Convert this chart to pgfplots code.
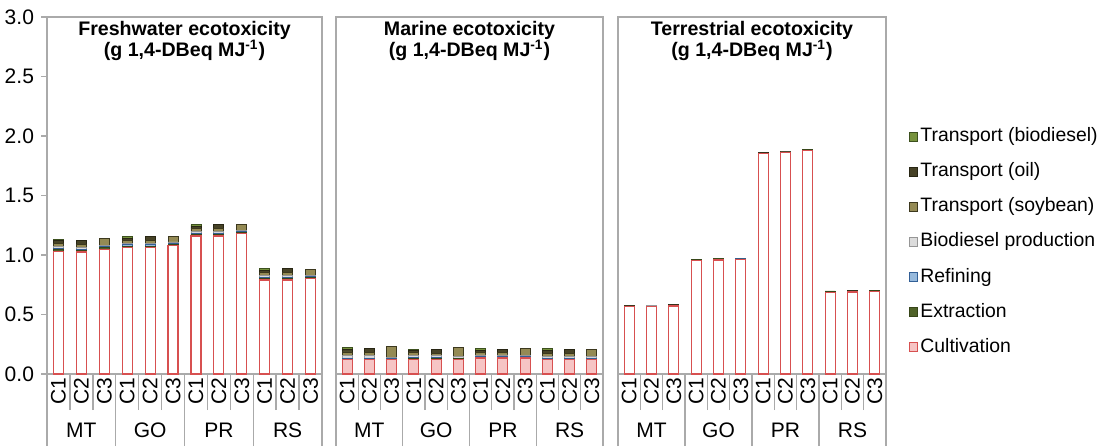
\documentclass[border=0pt]{standalone}
\usepackage{fontspec}
\setmainfont{Liberation Sans}
\usepackage{pgfplots}
\pgfplotsset{compat=1.18}
\usepackage{pgfplotstable}

\definecolor{cultD}{RGB}{215,80,80}
\definecolor{cultF}{RGB}{246,196,196}
\definecolor{extF}{RGB}{79,98,40}
\definecolor{extD}{RGB}{55,70,25}
\definecolor{refF}{RGB}{150,185,220}
\definecolor{refD}{RGB}{50,95,150}
\definecolor{bioF}{RGB}{220,220,220}
\definecolor{bioD}{RGB}{150,150,150}
\definecolor{soyF}{RGB}{148,138,84}
\definecolor{soyD}{RGB}{60,56,30}
\definecolor{oilF}{RGB}{70,66,38}
\definecolor{oilD}{RGB}{40,38,20}
\definecolor{tbF}{RGB}{118,146,60}
\definecolor{tbD}{RGB}{60,80,30}
\definecolor{axgray}{RGB}{170,170,170}

\pgfplotstableread{
x cult ext ref bio tsoy toil tbio
0 1.030 0.015 0.010 0.015 0.030 0.020 0.010
1 1.025 0.015 0.010 0.015 0.025 0.030 0.000
2 1.045 0.015 0.010 0.010 0.060 0.000 0.000
3 1.060 0.015 0.010 0.015 0.020 0.020 0.015
4 1.060 0.015 0.010 0.015 0.025 0.030 0.000
5 1.080 0.010 0.010 0.010 0.045 0.000 0.000
6 1.160 0.015 0.010 0.015 0.020 0.020 0.015
7 1.160 0.015 0.010 0.015 0.025 0.030 0.000
8 1.180 0.010 0.010 0.010 0.045 0.000 0.000
9 0.790 0.015 0.010 0.015 0.020 0.020 0.015
10 0.790 0.015 0.010 0.015 0.025 0.030 0.000
11 0.800 0.010 0.010 0.010 0.045 0.000 0.000
}\fresh

\pgfplotstableread{
x cult ext ref bio tsoy toil tbio
0 0.120 0.005 0.010 0.020 0.030 0.020 0.020
1 0.120 0.005 0.010 0.020 0.025 0.035 0.000
2 0.120 0.005 0.005 0.010 0.095 0.000 0.000
3 0.125 0.005 0.010 0.015 0.025 0.015 0.015
4 0.125 0.005 0.010 0.015 0.020 0.030 0.000
5 0.125 0.005 0.005 0.010 0.080 0.000 0.000
6 0.135 0.005 0.010 0.010 0.020 0.015 0.020
7 0.135 0.005 0.010 0.010 0.020 0.030 0.000
8 0.135 0.005 0.010 0.005 0.060 0.000 0.000
9 0.120 0.005 0.010 0.015 0.025 0.020 0.020
10 0.120 0.005 0.010 0.015 0.020 0.035 0.000
11 0.120 0.005 0.010 0.010 0.060 0.000 0.000
}\marine

\pgfplotstableread{
x cult ext ref bio tsoy toil tbio
0 0.565 0.004 0.001 0.001 0.002 0.001 0.001
1 0.567 0.004 0.001 0.001 0.002 0.001 0.001
2 0.572 0.004 0.001 0.001 0.002 0.001 0.001
3 0.955 0.004 0.001 0.001 0.002 0.001 0.001
4 0.958 0.004 0.001 0.001 0.002 0.001 0.001
5 0.963 0.004 0.001 0.001 0.002 0.001 0.001
6 1.850 0.004 0.001 0.001 0.002 0.001 0.001
7 1.860 0.004 0.001 0.001 0.002 0.001 0.001
8 1.880 0.004 0.001 0.001 0.002 0.001 0.001
9 0.688 0.004 0.001 0.001 0.002 0.001 0.001
10 0.690 0.004 0.001 0.001 0.002 0.001 0.001
11 0.695 0.004 0.001 0.001 0.002 0.001 0.001
}\terr

\pgfplotsset{
  panel/.style={
    scale only axis, height=178.5pt,
    ybar stacked, bar width=5pt,
    ymin=0, ymax=3, xmin=-0.5, xmax=11.5,
    axis line style={draw=axgray, line width=0.7pt},
    xtick={0,...,11},
    xticklabels={C1,C2,C3,C1,C2,C3,C1,C2,C3,C1,C2,C3},
    xticklabel style={rotate=90, anchor=east, font=\fontsize{10.5}{12}\selectfont, inner sep=1.5pt},
    xtick pos=bottom, ytick pos=left,
    tick align=outside,
    major tick length=0pt,
    minor xtick={-0.5,0.5,...,11.5},
    minor tick length=18pt,
    minor tick style={draw=axgray, line width=0.7pt},
    extra x ticks={-0.5,2.5,5.5,8.5,11.5},
    extra x tick labels={},
    extra x tick style={major tick length=36pt, tick style={draw=axgray, line width=0.7pt}},
    clip=false,
    title style={at={(0.5,1)}, anchor=north, yshift=-4.5pt, align=center, font=\bfseries\fontsize{9.8}{10.8}\selectfont},
    /pgf/number format/assume math mode=true,
  },
  sCult/.style={draw=cultD, fill=white, line width=0.6pt},
  sCultM/.style={draw=cultD, fill=cultF, line width=0.6pt},
  sExt/.style={draw=extD, fill=extF, line width=0.4pt},
  sRef/.style={draw=refD, fill=refF, line width=0.4pt},
  sBio/.style={draw=bioD, fill=bioF, line width=0.4pt},
  sSoy/.style={draw=soyD, fill=soyF, line width=0.4pt},
  sOil/.style={draw=oilD, fill=oilF, line width=0.4pt},
  sTb/.style={draw=tbD, fill=tbF, line width=0.4pt},
  legimg/.style={legend image code/.code={\draw[##1, line width=0.5pt] (0pt,-2.2pt) rectangle (4.4pt,2.2pt);}},
}

\newcommand{\grouplabels}{%
  \node[font=\fontsize{10.5}{12}\selectfont] at (axis cs:1,0) [yshift=-28pt] {MT};
  \node[font=\fontsize{10.5}{12}\selectfont] at (axis cs:4,0) [yshift=-28pt] {GO};
  \node[font=\fontsize{10.5}{12}\selectfont] at (axis cs:7,0) [yshift=-28pt] {PR};
  \node[font=\fontsize{10.5}{12}\selectfont] at (axis cs:10,0) [yshift=-28pt] {RS};
}

\begin{document}
\begin{tikzpicture}
% Panel 1
\begin{axis}[panel, at={(23.5pt,-187pt)}, anchor=south west, width=137.5pt,
  ytick=\empty,
  extra y ticks={0,0.5,1,1.5,2,2.5,3},
  /pgf/number format/fixed, /pgf/number format/fixed zerofill, /pgf/number format/precision=1,
  extra y tick style={major tick length=3pt, tick style={draw=axgray, line width=0.7pt},
    yticklabel style={font=\fontsize{10.5}{12}\selectfont}},
  title={Freshwater ecotoxicity\\(g 1,4-DBeq MJ\textsuperscript{-1})}]
\addplot[sCult] table[x=x, y=cult] {\fresh};
\addplot[sExt] table[x=x, y=ext] {\fresh};
\addplot[sRef] table[x=x, y=ref] {\fresh};
\addplot[sBio] table[x=x, y=bio] {\fresh};
\addplot[sSoy] table[x=x, y=tsoy] {\fresh};
\addplot[sOil] table[x=x, y=toil] {\fresh};
\addplot[sTb] table[x=x, y=tbio] {\fresh};
\grouplabels
\end{axis}
% Panel 2
\begin{axis}[panel, at={(168pt,-187pt)}, anchor=south west, width=133.5pt,
  ytick=\empty,
  title={Marine ecotoxicity\\(g 1,4-DBeq MJ\textsuperscript{-1})}]
\addplot[sCultM] table[x=x, y=cult] {\marine};
\addplot[sExt] table[x=x, y=ext] {\marine};
\addplot[sRef] table[x=x, y=ref] {\marine};
\addplot[sBio] table[x=x, y=bio] {\marine};
\addplot[sSoy] table[x=x, y=tsoy] {\marine};
\addplot[sOil] table[x=x, y=toil] {\marine};
\addplot[sTb] table[x=x, y=tbio] {\marine};
\grouplabels
\end{axis}
% Panel 3
\begin{axis}[panel, at={(309pt,-187pt)}, anchor=south west, width=134pt,
  ytick=\empty,
  title={Terrestrial ecotoxicity\\(g 1,4-DBeq MJ\textsuperscript{-1})},
  reverse legend,
  legend cell align=left,
  legend style={at={(1.083,0.37)}, anchor=west, draw=none, fill=none, inner sep=0pt,
    font=\fontsize{9.7}{11}\selectfont, row sep=6.55pt,
    nodes={inner sep=1pt, text height=7pt, text depth=2pt}}]
\addplot[sCult, forget plot] table[x=x, y=cult] {\terr};
\addplot[sExt, forget plot] table[x=x, y=ext] {\terr};
\addplot[sRef, forget plot] table[x=x, y=ref] {\terr};
\addplot[sBio, forget plot] table[x=x, y=bio] {\terr};
\addplot[sSoy, forget plot] table[x=x, y=tsoy] {\terr};
\addplot[sOil, forget plot] table[x=x, y=toil] {\terr};
\addplot[sTb, forget plot] table[x=x, y=tbio] {\terr};
\addlegendimage{legimg, draw=cultD, fill=cultF}
\addlegendentry{Cultivation}
\addlegendimage{legimg, draw=extD, fill=extF}
\addlegendentry{Extraction}
\addlegendimage{legimg, draw=refD, fill=refF}
\addlegendentry{Refining}
\addlegendimage{legimg, draw=bioD, fill=bioF}
\addlegendentry{Biodiesel production}
\addlegendimage{legimg, draw=soyD, fill=soyF}
\addlegendentry{Transport (soybean)}
\addlegendimage{legimg, draw=oilD, fill=oilF}
\addlegendentry{Transport (oil)}
\addlegendimage{legimg, draw=tbD, fill=tbF}
\addlegendentry{Transport (biodiesel)}
\grouplabels
\end{axis}
\pgfresetboundingbox
\path[use as bounding box] (0,0) rectangle (552pt,-223pt);
\end{tikzpicture}
\end{document}
